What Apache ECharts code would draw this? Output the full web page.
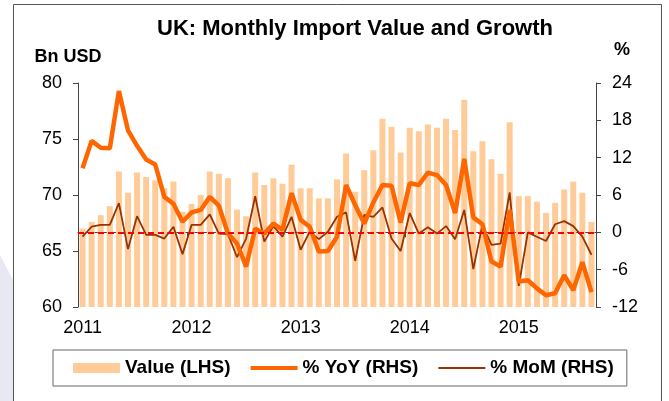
<!DOCTYPE html>
<html>
<head>
<meta charset="utf-8">
<title>UK: Monthly Import Value and Growth</title>
<script src="https://cdn.jsdelivr.net/npm/echarts@6.0.0/dist/echarts.min.js"></script>
<style>
  html, body { margin: 0; padding: 0; background: #fff; }
  #chart { width: 669px; height: 401px; }
</style>
</head>
<body>
<div id="chart"></div>
<script>
// months Jan 2011 - Sep 2015
const months = [
  '2011-01','2011-02','2011-03','2011-04','2011-05','2011-06','2011-07','2011-08','2011-09','2011-10','2011-11','2011-12',
  '2012-01','2012-02','2012-03','2012-04','2012-05','2012-06','2012-07','2012-08','2012-09','2012-10','2012-11','2012-12',
  '2013-01','2013-02','2013-03','2013-04','2013-05','2013-06','2013-07','2013-08','2013-09','2013-10','2013-11','2013-12',
  '2014-01','2014-02','2014-03','2014-04','2014-05','2014-06','2014-07','2014-08','2014-09','2014-10','2014-11','2014-12',
  '2015-01','2015-02','2015-03','2015-04','2015-05','2015-06','2015-07','2015-08','2015-09'
]
const years = ['2011', '2012', '2013', '2014', '2015']

// Bn USD (LHS)
const importValue = [
  67.0, 67.6, 68.2, 69.0, 72.1, 70.2, 72.0, 71.6, 71.3, 70.6, 71.2, 68.5,
  69.2, 70.0, 72.1, 71.9, 71.5, 68.7, 68.1, 72.0, 70.9, 71.5, 71.0, 72.7,
  70.6, 70.6, 69.7, 69.7, 71.4, 73.7, 70.3, 72.2, 74.0, 76.8, 76.1, 73.8,
  76.0, 75.7, 76.3, 76.0, 76.8, 75.8, 78.5, 73.9, 74.8, 73.2, 71.9, 76.5,
  69.9, 69.9, 69.4, 68.4, 69.3, 70.5, 71.2, 70.2, 67.6
]
// % YoY (RHS)
const yoy = [
  10.3, 14.7, 13.6, 13.5, 22.7, 16.4, 13.9, 11.7, 10.9, 5.7, 4.6, 1.7,
  3.2, 3.6, 5.7, 4.3, -0.2, -1.8, -5.5, 0.6, -0.2, 1.4, 0.4, 6.3,
  2.0, 0.9, -3.1, -3.0, -0.7, 7.6, 4.4, 1.4, 4.8, 7.6, 7.5, 1.6,
  7.9, 7.6, 9.6, 9.2, 7.6, 3.1, 11.8, 2.4, 1.3, -4.7, -5.5, 3.6,
  -7.9, -7.7, -9.0, -10.1, -9.8, -6.9, -9.3, -4.8, -9.6
]
// % MoM (RHS)
const mom = [
  -0.7, 0.9, 1.2, 1.2, 4.7, -2.7, 2.6, -0.4, -0.4, -1.0, 0.9, -3.5,
  1.2, 1.2, 2.9, -0.2, -0.3, -4.0, -1.0, 5.8, -1.5, 1.0, -0.7, 2.5,
  -2.8, 0.1, -1.1, 0.1, 2.5, 3.2, -4.6, 2.8, 2.5, 4.0, -1.0, -3.0,
  3.1, -0.2, 0.8, -0.2, 1.0, -1.1, 3.6, -5.9, 1.2, -2.0, -1.8, 6.4,
  -8.6, 0.0, -0.7, -1.4, 1.3, 1.8, 1.0, -0.7, -3.6
]

const font = '"Liberation Sans", Arial, sans-serif'
const axisColor = '#444'
// 每年一月显示刻度和年份
const yearStart = (index) => index % 12 === 0

let chart = echarts.init(document.getElementById('chart'), null, { renderer: 'canvas' })
var option = {
  animation: false,
  backgroundColor: '#fff',
  textStyle: { fontFamily: font },
  title: {
    text: 'UK: Monthly Import Value and Growth',
    left: 157,
    top: 18,
    padding: 0,
    textStyle: { fontSize: 22, fontWeight: 'bold', color: '#000', fontFamily: font }
  },
  graphic: [
    {
      type: 'polygon',
      silent: true,
      shape: { points: [[0, 255], [13, 280], [13, 401], [0, 401]] },
      style: { fill: '#E8E8F3' }
    },
    {
      type: 'rect',
      silent: true,
      shape: { x: 13.5, y: 4.5, width: 648, height: 420 },
      style: { fill: null, stroke: '#555', lineWidth: 1 }
    }
  ],
  legend: {
    left: 53,
    top: 350,
    padding: [8, 13, 8, 20],
    itemGap: 20,
    itemWidth: 47,
    itemHeight: 10,
    borderColor: '#666',
    borderWidth: 1,
    textStyle: { fontSize: 19, fontWeight: 'bold', color: '#000', fontFamily: font, lineHeight: 20 },
    data: [
      { name: 'Value (LHS)', icon: 'rect' },
      { name: '% YoY (RHS)', icon: 'path://M0,0M47,10M0,3L47,3L47,7L0,7Z' },
      { name: '% MoM (RHS)', icon: 'path://M0,0M47,10M0,4L47,4L47,6L0,6Z' }
    ]
  },
  grid: {
    left: 78,
    right: 73,
    top: 83,
    bottom: 94
  },
  xAxis: {
    type: 'category',
    data: months,
    boundaryGap: true,
    axisLine: { show: true, lineStyle: { color: axisColor, width: 1 } },
    axisTick: { show: true, interval: yearStart, length: 5, lineStyle: { color: axisColor } },
    axisLabel: {
      interval: yearStart,
      margin: 12,
      fontSize: 18,
      color: '#000',
      formatter: (value, index) => years[index / 12]
    },
    splitLine: { show: false }
  },
  yAxis: [
    {
      type: 'value',
      min: 60,
      max: 80,
      interval: 5,
      name: 'Bn USD',
      nameLocation: 'end',
      nameGap: 17,
      nameTextStyle: { fontSize: 18, fontWeight: 'bold', color: '#000', padding: [0, 20, 0, 0] },
      axisLine: { show: true, lineStyle: { color: axisColor, width: 1 } },
      axisTick: { show: true, length: 5, lineStyle: { color: axisColor } },
      axisLabel: { margin: 16, fontSize: 18, color: '#000' },
      splitLine: { show: false }
    },
    {
      type: 'value',
      min: -12,
      max: 24,
      interval: 6,
      name: '%',
      nameLocation: 'end',
      nameGap: 24,
      nameTextStyle: { fontSize: 18, fontWeight: 'bold', color: '#000', padding: [0, 0, 0, 52] },
      axisLine: { show: true, lineStyle: { color: axisColor, width: 1 } },
      axisTick: { show: true, length: 5, lineStyle: { color: axisColor } },
      axisLabel: { margin: 16, fontSize: 18, color: '#000' },
      splitLine: { show: false }
    }
  ],
  series: [
    {
      name: 'Value (LHS)',
      type: 'bar',
      yAxisIndex: 0,
      data: importValue,
      barWidth: 6,
      itemStyle: { color: '#FFCC99' }
    },
    {
      name: '% YoY (RHS)',
      type: 'line',
      yAxisIndex: 1,
      data: yoy,
      symbol: 'none',
      z: 4,
      itemStyle: { color: '#FF6600' },
      lineStyle: { color: '#FF6600', width: 4.5 }
    },
    {
      name: '% MoM (RHS)',
      type: 'line',
      yAxisIndex: 1,
      data: mom,
      symbol: 'none',
      z: 3,
      itemStyle: { color: '#993300' },
      lineStyle: { color: '#993300', width: 1.8 },
      markLine: {
        silent: true,
        symbol: 'none',
        label: { show: false },
        lineStyle: { color: '#FF0000', type: [6, 4], width: 2 },
        data: [{ yAxis: 0 }]
      }
    }
  ]
}
chart.setOption(option)
</script>
</body>
</html>
